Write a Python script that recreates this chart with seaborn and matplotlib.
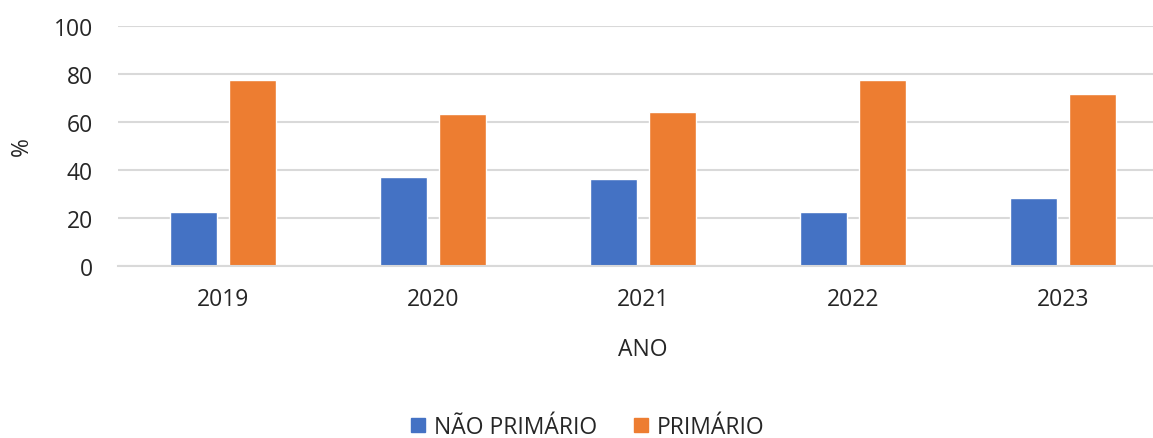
import pandas as pd
import matplotlib.pyplot as plt
import seaborn as sns

# Data
anos = ["2019", "2020", "2021", "2022", "2023"]
nao_primario = [22.6, 36.9, 36.0, 22.6, 28.4]
primario = [77.4, 63.1, 64.0, 77.4, 71.6]
series = ["NÃO PRIMÁRIO", "PRIMÁRIO"]
cores = ["#4472C4", "#ED7D31"]

df = pd.DataFrame({
    "ANO": anos * 2,
    "valor": nao_primario + primario,
    "serie": [series[0]] * len(anos) + [series[1]] * len(anos),
})

sns.set_theme(style="white")
plt.rcParams["font.family"] = ["Open Sans", "DejaVu Sans"]
texto = "#262626"
fs = 16.5

fig = plt.figure(figsize=(11.53, 4.39), dpi=100)
ax = fig.add_axes([0.1023, 0.3925, 0.9107, 0.546])

sns.barplot(data=df, x="ANO", y="valor", hue="serie", palette=cores,
            width=0.56, gap=0.2, ax=ax, legend=False, saturation=1)

ax.set_xlim(-0.5, 4.5)
ax.set_ylim(0, 100)
ax.set_yticks([0, 20, 40, 60, 80, 100])
ax.grid(axis="y", color="#d9d9d9", linewidth=1.5)
ax.set_axisbelow(True)
for s in ["top", "right", "left"]:
    ax.spines[s].set_visible(False)
ax.spines["bottom"].set_color("#d9d9d9")
ax.spines["bottom"].set_linewidth(1.5)

ax.tick_params(axis="both", length=0, labelsize=fs, labelcolor=texto)
ax.tick_params(axis="x", pad=15)
ax.tick_params(axis="y", pad=18)
ax.set_xlabel("ANO", fontsize=fs, color=texto, va="center")
ax.set_ylabel("%", fontsize=fs, color=texto, va="center")
ax.xaxis.set_label_coords(0.5 - 0.0, -0.347)
ax.yaxis.set_label_coords(-0.0914, 0.5)

handles = [plt.Rectangle((0, 0), 1, 1, color=c) for c in cores]
fig.legend(handles, series, loc="center", bbox_to_anchor=(0.51, 0.025),
           ncol=2, frameon=False, fontsize=fs, labelcolor=texto,
           handlelength=0.6, handleheight=0.6, handletextpad=0.4,
           columnspacing=1.6)

fig.savefig("out.png", dpi=100)
